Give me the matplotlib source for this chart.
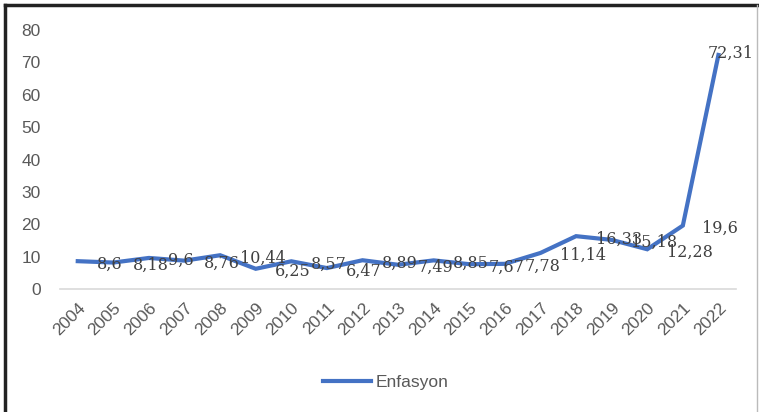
import matplotlib.pyplot as plt
from matplotlib.transforms import ScaledTranslation

years = [str(y) for y in range(2004, 2023)]
enfasyon = [8.6, 8.18, 9.6, 8.76, 10.44, 6.25, 8.57, 6.47, 8.89, 7.49,
            8.85, 7.67, 7.78, 11.14, 16.33, 15.18, 12.28, 19.6, 72.31]
labels = [f"{v:g}".replace(".", ",") for v in enfasyon]
yticks = [0, 10, 20, 30, 40, 50, 60, 70, 80]

plt.rcParams['font.family'] = ['Liberation Sans', 'DejaVu Sans']

fig = plt.figure(figsize=(7.59, 4.12), dpi=100)
ax = fig.add_axes([0.079, 0.2985, 0.891, 0.6285])

x = list(range(len(years)))
line, = ax.plot(x, enfasyon, color='#4472C4', lw=3, solid_joinstyle='miter',
                label='Enfasyon')

for i, (xi, v, lab) in enumerate(zip(x, enfasyon, labels)):
    # last label doesn't fit on the right, Excel pulls it back over the point
    off = (-8, 1) if i == len(x) - 1 else (14, -2)
    ax.annotate(lab, (xi, v), xytext=off, textcoords='offset points',
                ha='left', va='center', fontsize=11.5, color='#404040',
                family=['DejaVu Serif'], annotation_clip=False)

ax.set_xlim(-0.5, 18.5)
ax.set_ylim(0, 80)
ax.set_yticks(yticks)
ax.set_xticks(x)
ax.set_xticklabels(years, rotation=45, ha='right', rotation_mode='anchor')
shift = ScaledTranslation(5 / 100, 0, fig.dpi_scale_trans)
for t in ax.get_xticklabels():
    t.set_transform(t.get_transform() + shift)
ax.tick_params(axis='both', length=0, labelsize=12.5, colors='#595959')
ax.tick_params(axis='y', pad=14)
ax.tick_params(axis='x', pad=8)
for s in ['top', 'right', 'left']:
    ax.spines[s].set_visible(False)
ax.spines['bottom'].set_color('#D9D9D9')
ax.spines['bottom'].set_linewidth(1.2)

fig.legend(handles=[line], loc='center', bbox_to_anchor=(0.508, 0.071),
           frameon=False, fontsize=12.5, handlelength=2.8, handletextpad=0.25,
           labelcolor='#595959')

# outer frame
fig.add_artist(plt.Line2D([0.006, 0.006], [0, 0.988], transform=fig.transFigure,
                          color='#222222', lw=2.5))
fig.add_artist(plt.Line2D([0.006, 0.997], [0.988, 0.988], transform=fig.transFigure,
                          color='#222222', lw=2.5))
fig.add_artist(plt.Line2D([0.997, 0.997], [0, 0.988], transform=fig.transFigure,
                          color='#BBBBBB', lw=1))

fig.savefig('out.png', dpi=100)
